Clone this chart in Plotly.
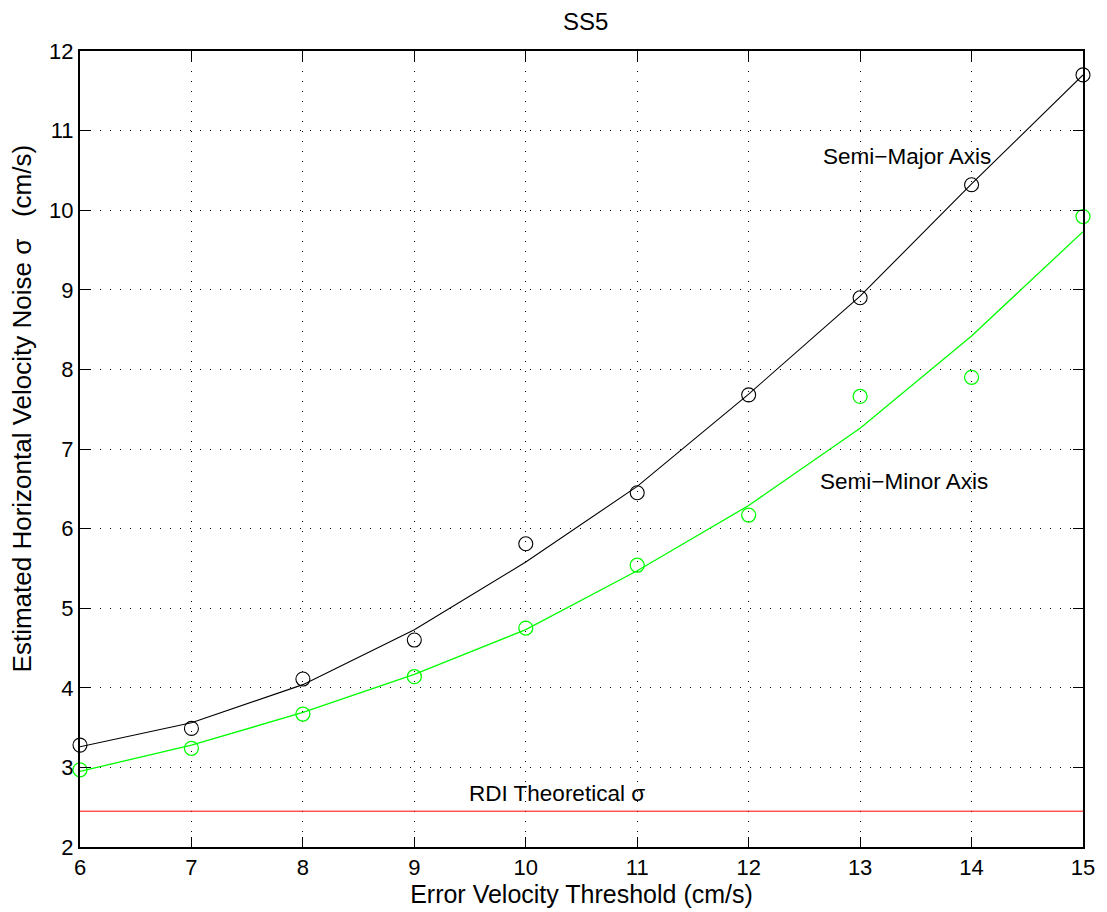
import plotly.graph_objects as go

threshold = [6, 7, 8, 9, 10, 11, 12, 13, 14, 15]
major_pts = [3.28, 3.49, 4.11, 4.60, 5.81, 6.45, 7.68, 8.90, 10.32, 11.70]
minor_pts = [2.97, 3.24, 3.67, 4.14, 4.75, 5.54, 6.17, 7.66, 7.90, 9.92]
major_fit = [3.26, 3.56, 4.04, 4.73, 5.58, 6.53, 7.69, 8.92, 10.33, 11.70]
minor_fit = [2.95, 3.28, 3.69, 4.17, 4.73, 5.47, 6.29, 7.26, 8.42, 9.73]
rdi_x = [6, 15]
rdi_sigma = [2.45, 2.45]

FONT = "Liberation Sans, Arial, Helvetica, sans-serif"
GREEN = "#00ff00"

fig = go.Figure()
fig.add_trace(go.Scatter(x=rdi_x, y=rdi_sigma, mode="lines",
                         line=dict(color="#ff0000", width=1), showlegend=False))
fig.add_trace(go.Scatter(x=threshold, y=major_fit, mode="lines",
                         line=dict(color="black", width=1.1), showlegend=False))
fig.add_trace(go.Scatter(x=threshold, y=minor_fit, mode="lines",
                         line=dict(color=GREEN, width=1.3), showlegend=False))
fig.add_trace(go.Scatter(x=threshold, y=major_pts, mode="markers", cliponaxis=False,
                         marker=dict(symbol="circle-open", size=14, color="black",
                                     line=dict(width=1.1, color="black")),
                         showlegend=False))
fig.add_trace(go.Scatter(x=threshold, y=minor_pts, mode="markers", cliponaxis=False,
                         marker=dict(symbol="circle-open", size=14, color=GREEN,
                                     line=dict(width=1.3, color=GREEN)),
                         showlegend=False))

axis_common = dict(
    showline=True, linecolor="black", linewidth=2, mirror="ticks",
    ticks="inside", ticklen=10, tickwidth=1, tickcolor="black",
    showgrid=True, gridcolor="black", gridwidth=1, griddash="1px,9px",
    zeroline=False, tickfont=dict(family=FONT, size=22, color="black"),
)

fig.update_xaxes(range=[6, 15], dtick=1, tick0=6,
                 title=dict(text="Error Velocity Threshold (cm/s)",
                            font=dict(family=FONT, size=25, color="black"), standoff=2),
                 **axis_common)
fig.update_yaxes(range=[2, 12], dtick=1, tick0=2, **axis_common)

# y-axis title (placed as rotated text so it can sit where the reference puts it)
fig.add_annotation(xref="paper", yref="paper", x=0, y=0.551, xshift=-58,
                   xanchor="center", yanchor="middle", textangle=-90, showarrow=False,
                   text="Estimated Horizontal Velocity Noise σ   (cm/s)",
                   font=dict(family=FONT, size=26, color="black"))

ann_font = dict(family=FONT, size=22.5, color="black")
fig.add_annotation(x=13.42, y=10.675, text="Semi−Major Axis", showarrow=False, font=ann_font)
fig.add_annotation(x=13.39, y=6.586, text="Semi−Minor Axis", showarrow=False, font=ann_font)
fig.add_annotation(x=10.28, y=2.67, text="RDI Theoretical σ", showarrow=False, font=ann_font)

fig.update_layout(
    width=1107, height=912,
    margin=dict(l=80, r=16, t=51, b=65),
    paper_bgcolor="white", plot_bgcolor="white",
    title=dict(text="SS5", x=0.529, xanchor="center", y=0.976, yanchor="middle",
               font=dict(family=FONT, size=24, color="black")),
    font=dict(family=FONT, color="black"),
)

fig.write_html("out.html")
